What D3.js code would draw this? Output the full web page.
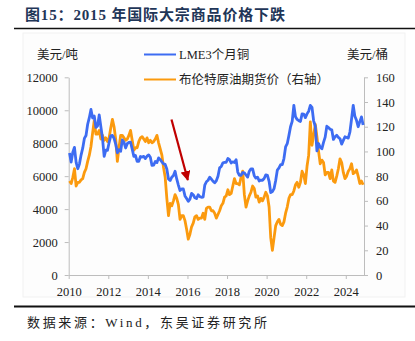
<!DOCTYPE html>
<html><head><meta charset="utf-8">
<script src="https://cdn.jsdelivr.net/npm/d3@7"></script>
<style>
html,body{margin:0;padding:0;background:#fff;}
svg{display:block;}
</style></head>
<body>
<svg id="c" width="415" height="341"></svg>
<script>
// ---- data (monthly, Jan 2010 – Nov 2024) ----
const startYear = 2010;
const copper = [
 7400,6850,7460,7750,6840,6450,6730,7280,7700,8290,8470,9150,
 9550,10050,9530,9650,8960,9050,9720,9000,8300,7200,7580,7560,
 8040,8440,8470,8290,7950,7420,7600,7510,8200,8060,7710,7970,
 8050,8060,7640,7200,7250,6900,6900,7190,7160,7200,7070,7210,
 7290,7150,6650,6670,6890,6820,7110,7000,6870,6740,6710,6440,
 5830,5730,5940,6040,6300,5830,5460,5130,5220,5220,4800,4640,
 4470,4600,4950,4870,4690,4640,4870,4760,4720,4730,5450,5660,
 5750,5940,5820,5690,5600,5720,5990,6500,6590,6810,6830,6840,
 7070,7000,6800,6870,6830,7000,6250,6050,6050,6220,6200,6070,
 5940,6300,6440,6440,6030,5880,5940,5710,5760,5750,5860,6080,
 6050,5690,5000,5060,5240,5740,6370,6500,6700,6700,7070,7770,
 7970,8460,9000,9330,10300,9610,9440,9370,9320,9780,9770,9550,
 9780,9940,10300,10180,9360,9030,7530,7980,7750,7660,8050,8370,
 9030,8950,8850,8810,8230,8390,8480,8350,8270,7940,8170,8390,
 8350,8310,8680,9470,10300,9640,9390,9000,9310,9600,9100
];
const brent = [
 76,74,79,86,72,75,75,77,78,83,86,92,
 97,104,115,125,114,114,117,110,113,109,111,108,
 111,119,126,120,110,92,103,113,113,111,109,110,
 113,117,109,101,103,103,108,111,112,110,108,111,
 107,109,107,108,110,113,107,102,97,87,79,62,
 48,58,56,60,65,62,57,45,48,48,44,37,
 29,33,39,42,47,48,45,46,46,50,45,54,
 55,55,52,52,50,46,49,52,56,58,63,64,
 69,65,66,72,78,74,74,73,79,84,65,55,
 60,64,67,72,70,63,64,59,62,60,63,67,
 64,55,30,20,30,40,43,45,41,40,43,50,
 55,62,65,65,68,73,75,71,75,84,81,74,
 88,97,124,105,113,122,112,100,90,93,91,81,
 83,83,78,85,76,75,80,86,94,91,83,78,
 80,84,86,90,82,83,85,80,74,76,73
];
const xTicks = [2010,2012,2014,2016,2018,2020,2022,2024];
const leftTicks = [0,2000,4000,6000,8000,10000,12000];
const rightTicks = [0,20,40,60,80,100,120,140,160];
const seriesNames = ["LME3个月铜","布伦特原油期货价（右轴）"];
const titleText = "图15：2015 年国际大宗商品价格下跌";
const sourceText = "数据来源：Wind，东吴证券研究所";
const leftUnit = "美元/吨", rightUnit = "美元/桶";

// ---- layout ----
const svg = d3.select("#c");
const serif = "'Liberation Serif','Times New Roman','Noto Sans CJK SC',serif";
const pL = 68.7, pR = 364, pT = 77.3, pB = 275;
const x = d3.scaleLinear().domain([2010, 2024.92]).range([pL, pR]);
const yL = d3.scaleLinear().domain([0, 12000]).range([pB, pT]);
const yR = d3.scaleLinear().domain([0, 160]).range([pB, pT]);
const t = i => startYear + (i + 0.5) / 12;

// faint panel
svg.append("rect").attr("x",23).attr("y",33).attr("width",382).attr("height",264)
  .attr("fill","#fdfdfd").attr("stroke","#f1f1f1").attr("stroke-width",1);

// title
svg.append("text").attr("x",25).attr("y",20).text(titleText)
  .attr("font-family",serif).attr("font-weight","bold").attr("font-size",15)
  .attr("textLength",260).attr("lengthAdjust","spacing")
  .attr("fill","#1f3658");
svg.append("line").attr("x1",14).attr("x2",415).attr("y1",28.5).attr("y2",28.5)
  .attr("stroke","#111").attr("stroke-width",1.4);
svg.append("line").attr("x1",14).attr("x2",415).attr("y1",306.5).attr("y2",306.5)
  .attr("stroke","#111").attr("stroke-width",2);
svg.append("text").attr("x",27).attr("y",327).text(sourceText)
  .attr("font-family",serif).attr("font-size",13).attr("fill","#222")
  .attr("textLength",240).attr("lengthAdjust","spacing");

// axes
const axisColor = "#bdbdbd";
function styleAxis(g){
  g.selectAll("path,line").attr("stroke",axisColor);
  g.selectAll("text").attr("font-family",serif).attr("font-size",12.5).attr("fill","#222");
}
const gL = svg.append("g").attr("transform",`translate(${pL},0)`)
  .call(d3.axisLeft(yL).tickValues(leftTicks).tickSize(4).tickSizeOuter(0).tickPadding(7).tickFormat(d3.format("d")));
styleAxis(gL);
const gR = svg.append("g").attr("transform",`translate(${pR},0)`)
  .call(d3.axisRight(yR).tickValues(rightTicks).tickSize(4).tickSizeOuter(0).tickPadding(8).tickFormat(d3.format("d")));
styleAxis(gR);
const gX = svg.append("g").attr("transform",`translate(0,${pB})`)
  .call(d3.axisBottom(x).tickValues(xTicks).tickSize(4).tickSizeOuter(0).tickPadding(8).tickFormat(d3.format("d")));
styleAxis(gX);

// unit labels
svg.append("text").attr("x",37).attr("y",59).text(leftUnit)
  .attr("font-family",serif).attr("font-size",12.5).attr("fill","#222");
svg.append("text").attr("x",388).attr("y",59).attr("text-anchor","end").text(rightUnit)
  .attr("font-family",serif).attr("font-size",12.5).attr("fill","#222");

// lines
const blue = "#3d6cf2", orange = "#fb9a0e";
const lineL = d3.line().x((d,i)=>x(t(i))).y(d=>yL(d));
const lineR = d3.line().x((d,i)=>x(t(i))).y(d=>yR(d));
svg.append("path").datum(brent).attr("d",lineR).attr("fill","none")
  .attr("stroke",orange).attr("stroke-width",2.8).attr("stroke-linejoin","round");
svg.append("path").datum(copper).attr("d",lineL).attr("fill","none")
  .attr("stroke",blue).attr("stroke-width",2.8).attr("stroke-linejoin","round");

// legend
const leg = [{name:seriesNames[0],c:blue,y:54.5},{name:seriesNames[1],c:orange,y:79.5}];
leg.forEach(d=>{
  svg.append("line").attr("x1",144).attr("x2",176).attr("y1",d.y).attr("y2",d.y)
    .attr("stroke",d.c).attr("stroke-width",2);
  svg.append("text").attr("x",179).attr("y",d.y+4.5).text(d.name)
    .attr("font-family",serif).attr("font-size",12.5).attr("fill","#222");
});

// arrow
const defs = svg.append("defs");
defs.append("marker").attr("id","ah").attr("viewBox","0 0 10 10").attr("refX",9).attr("refY",5)
  .attr("markerWidth",4.5).attr("markerHeight",4.5).attr("orient","auto")
  .append("path").attr("d","M0,0 L10,5 L0,10 z").attr("fill","#c00000");
svg.append("line").attr("x1",171.5).attr("y1",119.5).attr("x2",187.8).attr("y2",180)
  .attr("stroke","#c00000").attr("stroke-width",2.2).attr("marker-end","url(#ah)");
</script>
</body></html>
